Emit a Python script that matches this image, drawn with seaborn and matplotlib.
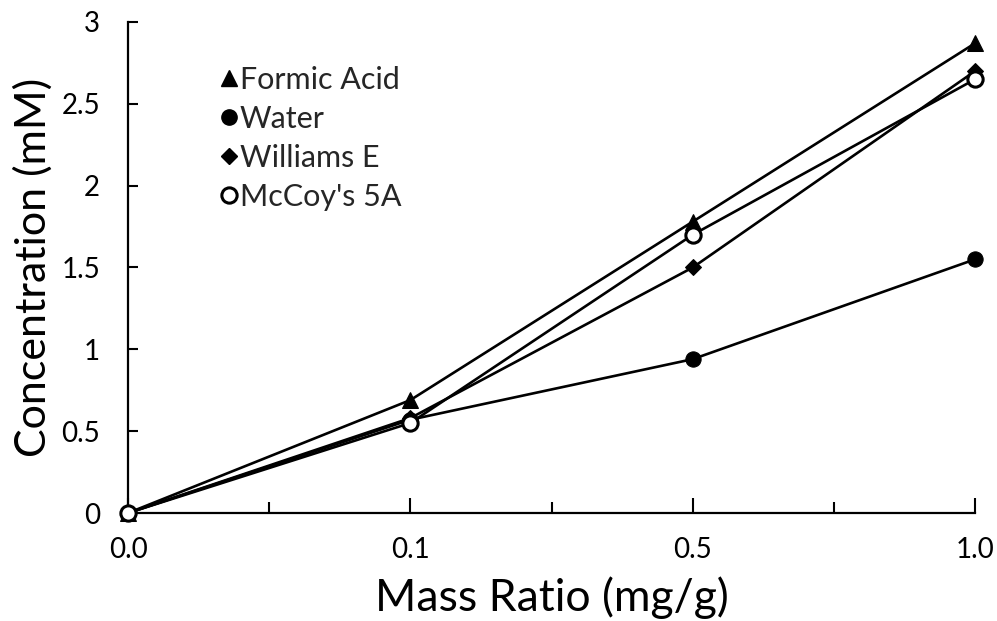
import matplotlib
matplotlib.use("Agg")
import matplotlib.pyplot as plt
from matplotlib.ticker import FixedLocator
import pandas as pd
import seaborn as sns

# Mass ratio categories (evenly spaced on the axis)
mass_ratio = ["0.0", "0.1", "0.5", "1.0"]

# Concentration (mM) for each extraction medium
formic_acid = [0.0, 0.69, 1.78, 2.87]
water = [0.0, 0.57, 0.94, 1.55]
williams_e = [0.0, 0.58, 1.50, 2.70]
mccoys_5a = [0.0, 0.55, 1.70, 2.65]

y_ticks = [0, 0.5, 1, 1.5, 2, 2.5, 3]
y_tick_labels = ["0", "0.5", "1", "1.5", "2", "2.5", "3"]

sns.set_theme(style="white")
plt.rcParams["font.family"] = ["Lato", "DejaVu Sans"]

pos = list(range(len(mass_ratio)))
frames = []
for name, vals in [("Water", water), ("Williams E", williams_e),
                   ("Formic Acid", formic_acid), ("McCoy's 5A", mccoys_5a)]:
    frames.append(pd.DataFrame({"pos": pos, "conc": vals, "series": name}))
df = pd.concat(frames, ignore_index=True)

fig = plt.figure(figsize=(9.97, 6.21), dpi=100)
ax = fig.add_axes([0.1284, 0.1739, 0.978 - 0.1284, 0.9646 - 0.1739])

styles = {
    "Water": dict(marker="o", markersize=11, markerfacecolor="black"),
    "Williams E": dict(marker="D", markersize=8.5, markerfacecolor="black"),
    "Formic Acid": dict(marker="^", markersize=11.5, markerfacecolor="black"),
    "McCoy's 5A": dict(marker="o", markersize=11, markerfacecolor="white",
                       markeredgewidth=2.2),
}

for name in ["Water", "Williams E", "Formic Acid", "McCoy's 5A"]:
    sub = df[df["series"] == name]
    sns.lineplot(data=sub, x="pos", y="conc", ax=ax, color="black",
                 linewidth=1.9, markeredgecolor="black", clip_on=False,
                 legend=False, zorder=3, **styles[name])

ax.set_xlim(0, 3)
ax.set_ylim(0, 3)

for side in ["top", "right"]:
    ax.spines[side].set_visible(False)
for side in ["left", "bottom"]:
    ax.spines[side].set_color("black")
    ax.spines[side].set_linewidth(1.6)

ax.set_xticks(pos)
ax.set_xticklabels(mass_ratio)
ax.xaxis.set_minor_locator(FixedLocator([0.5, 1.5, 2.5]))
ax.set_yticks(y_ticks)
ax.set_yticklabels(y_tick_labels)

ax.tick_params(axis="x", which="major", direction="in", length=11, width=1.5,
               colors="black", labelsize=20, pad=17, bottom=True)
ax.tick_params(axis="x", which="minor", direction="in", length=8, width=1.5,
               colors="black", bottom=True)
ax.tick_params(axis="y", which="major", direction="in", length=7, width=1.5,
               colors="black", labelsize=20, pad=20, left=True)

ax.set_xlabel("Mass Ratio (mg/g)", fontsize=32, color="black", labelpad=10)
ax.set_ylabel("Concentration (mM)", fontsize=31, color="black", labelpad=6)

# Legend: marker glyphs next to the series names, no frame
handles = []
for name in ["Formic Acid", "Water", "Williams E", "McCoy's 5A"]:
    st = styles[name]
    h, = ax.plot([], [], linestyle="none", color="black",
                 markeredgecolor="black", **st)
    handles.append(h)
leg = ax.legend(handles, ["Formic Acid", "Water", "Williams E", "McCoy's 5A"],
                loc="upper left", bbox_to_anchor=(0.094, 0.935), frameon=False,
                fontsize=22, handlelength=0.6, handletextpad=0.05,
                labelspacing=0.36, borderaxespad=0)

fig.savefig("out.png", dpi=100, facecolor="white")
